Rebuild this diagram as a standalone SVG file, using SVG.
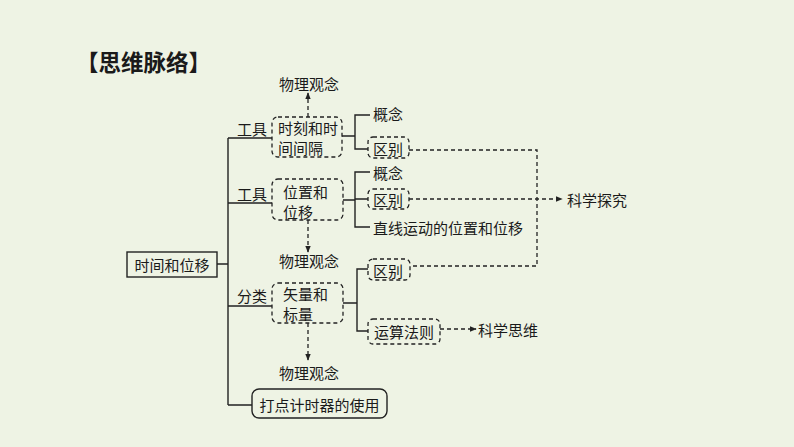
<svg xmlns="http://www.w3.org/2000/svg" width="794" height="447" viewBox="0 0 794 447">
<defs>
<style>
text{font-family:"Noto Sans CJK SC","Noto Sans",sans-serif;font-size:15px;fill:#1a1a1a;dominant-baseline:central}
.title{font-size:22.5px;font-weight:bold}
.solid{fill:none;stroke:#222;stroke-width:1.4}
.dash{fill:none;stroke:#222;stroke-width:1.3;stroke-dasharray:4 3}
.box{fill:none;stroke:#222;stroke-width:1.4}
.dbox{fill:none;stroke:#222;stroke-width:1.3;stroke-dasharray:4 3}
</style>
<marker id="ah" viewBox="0 0 10 10" refX="9" refY="5" markerWidth="7" markerHeight="7" orient="auto" markerUnits="userSpaceOnUse">
<path d="M0,1 L10,5 L0,9 Z" fill="#222"/>
</marker>
</defs>
<rect width="794" height="447" fill="#eef3e4"/>
<text class="title" x="76" y="61">【思维脉络】</text>

<g id="connectors">
<path class="solid" d="M217,264 H228 M228,138 V405 M228,138 H272 M228,203 H272 M228,306 H272 M228,405 H252"/>
<path class="solid" d="M342,136 H355 M370,115 H355 V149 H368"/>
<path class="solid" d="M343,200 H355 M370,172 H355 V227 H370 M355,199 H368"/>
<path class="solid" d="M343,303 H357 M368,269 H357 V331 H368"/>
<path class="dash" d="M308,117 V93" marker-end="url(#ah)"/>
<path class="dash" d="M308,220 V252" marker-end="url(#ah)"/>
<path class="dash" d="M308,323 V360" marker-end="url(#ah)"/>
<path class="dash" d="M409,150 H537 V266 H410"/>
<path class="dash" d="M409,199 H562" marker-end="url(#ah)"/>
<path class="dash" d="M440,329 H476" marker-end="url(#ah)"/>
</g>

<g id="root"><rect class="box" x="127" y="252" width="90" height="25"/><text x="172" y="264.5" text-anchor="middle">时间和位移</text></g>

<g id="lbl-tool1"><text x="237" y="128">工具</text></g>
<g id="lbl-tool2"><text x="237" y="193">工具</text></g>
<g id="lbl-class"><text x="237" y="295">分类</text></g>

<g id="n-time"><rect class="dbox" x="272" y="117" width="70" height="40" rx="6"/><text x="278" y="127">时刻和时</text><text x="278" y="147">间间隔</text></g>
<g id="n-pos"><rect class="dbox" x="272" y="179" width="71" height="41" rx="6"/><text x="283" y="191">位置和</text><text x="283" y="211">位移</text></g>
<g id="n-vec"><rect class="dbox" x="272" y="283" width="71" height="40" rx="6"/><text x="283" y="293">矢量和</text><text x="283" y="313">标量</text></g>

<g id="n-wl1"><text x="309" y="83" text-anchor="middle">物理观念</text></g>
<g id="n-wl2"><text x="309" y="260" text-anchor="middle">物理观念</text></g>
<g id="n-wl3"><text x="309" y="372" text-anchor="middle">物理观念</text></g>

<g id="n-gn1"><text x="373" y="113">概念</text></g>
<g id="n-qb1"><rect class="dbox" x="368" y="137" width="41" height="21" rx="5"/><text x="373" y="148">区别</text></g>
<g id="n-gn2"><text x="373" y="172">概念</text></g>
<g id="n-qb2"><rect class="dbox" x="368" y="189" width="41" height="20" rx="5"/><text x="373" y="199">区别</text></g>
<g id="n-zx"><text x="373" y="227">直线运动的位置和位移</text></g>
<g id="n-qb3"><rect class="dbox" x="368" y="259" width="42" height="21" rx="5"/><text x="373" y="270">区别</text></g>
<g id="n-ys"><rect class="dbox" x="368" y="319" width="72" height="25" rx="5"/><text x="374" y="331">运算法则</text></g>

<g id="n-kxtj"><text x="567" y="199">科学探究</text></g>
<g id="n-kxsw"><text x="478" y="329">科学思维</text></g>

<g id="n-ddj"><rect class="box" x="252" y="389" width="135" height="29" rx="7"/><text x="319.5" y="404" text-anchor="middle">打点计时器的使用</text></g>
</svg>
